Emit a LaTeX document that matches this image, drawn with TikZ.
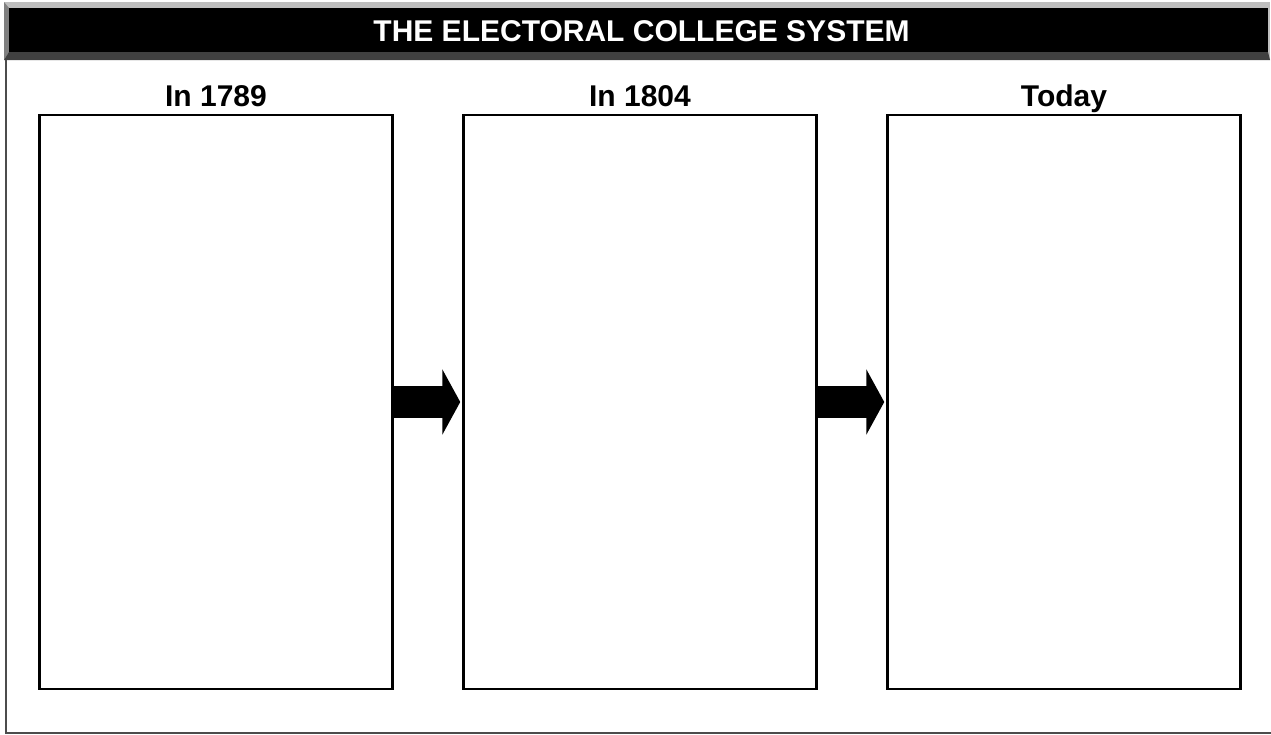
\documentclass[tikz,border=0pt]{standalone}
\usepackage{fontspec}
\setmainfont{Liberation Sans}
\usetikzlibrary{positioning,arrows.meta}

\begin{document}
\begin{tikzpicture}[x=1pt, y=-1pt, node distance=7pt and 68.5pt,
  panel/.style={draw, line width=2.5pt, minimum width=353pt, minimum height=574pt, inner sep=0pt},
  head/.style={font=\fontsize{30}{34}\selectfont\bfseries, inner sep=0pt},
  fat/.style={line width=32pt, -{Triangle[length=18pt, width=65pt]}, shorten >=2pt}]
\useasboundingbox (0,0) rectangle (1271,734);
% header bar with bevel
\fill[black!25] (4,2) rectangle (1270,60);
\fill[black!50] (4,2) -- (9,8) -- (9,52) -- (4,60) -- cycle;
\fill[black!75] (4,60) -- (9,52) -- (1268,52) -- (1270,60) -- cycle;
\node[fill=black, minimum width=1259pt, minimum height=44pt, inner sep=0pt, outer sep=0pt] (bar) at (638.5,30) {};
\node[text=white, inner sep=0pt, font=\fontsize{30}{36}\selectfont\bfseries]
  (title) at ([xshift=3pt, yshift=-1pt]bar.center) {THE ELECTORAL COLLEGE SYSTEM};
\draw[line width=2pt, black!70] (6,60) -- (6,733) -- (1271,733);
% the three panels
\node[panel] (p1789) at (216,402) {};
\node[panel, right=of p1789] (p1804) {};
\node[panel, right=of p1804] (ptoday) {};
\node[head, above=of p1789.north, anchor=base] (l1789) {In 1789};
\node[head, above=of p1804.north, anchor=base] (l1804) {In 1804};
\node[head, above=of ptoday.north, anchor=base] (ltoday) {Today};
\draw[fat] (p1789) -- (p1804);
\draw[fat] (p1804) -- (ptoday);
\end{tikzpicture}
\end{document}
